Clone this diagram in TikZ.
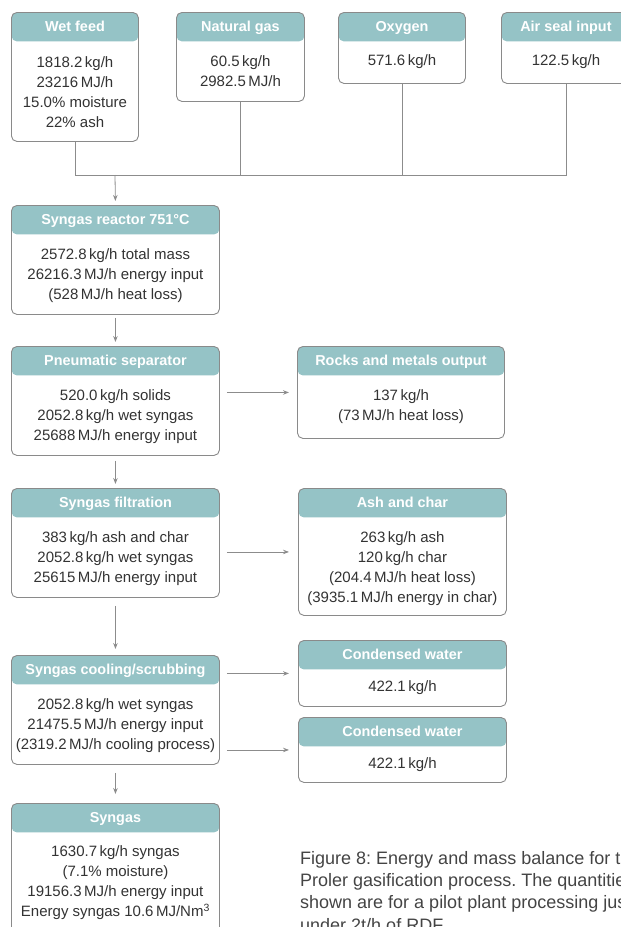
\documentclass[tikz,border=0pt]{standalone}
\usepackage{fontspec}
\setmainfont{Liberation Sans}
\usetikzlibrary{arrows.meta}
\frenchspacing
\definecolor{hdrcol}{HTML}{95C3C6}
\definecolor{edgecol}{HTML}{8A8A8A}
\definecolor{linecol}{HTML}{8C8C8C}
\definecolor{txtcol}{HTML}{333333}
\definecolor{capcol}{HTML}{444444}
\tikzset{
  boxshape/.style={draw=edgecol, line width=0.9pt, rounded corners=5.5pt, inner sep=0pt, fill=white,
    path picture={\fill[hdrcol] ([yshift=-29pt]path picture bounding box.north west) rectangle (path picture bounding box.north east);}},
  hdrtext/.style={text=white, font=\fontsize{14.4}{17}\selectfont\bfseries, inner sep=0pt, anchor=base},
  bodytext/.style={text=txtcol, font=\fontsize{15}{20}\selectfont, align=center, inner sep=0pt, anchor=north},
  conn/.style={draw=linecol, line width=0.8pt},
  flowarrow/.style={conn, -{Stealth[length=6pt,width=4.5pt]}},
  captext/.style={text=capcol, font=\fontsize{18}{22.3}\selectfont, align=left, inner sep=0pt, anchor=north west}
}
% #1 name, #2 x1, #3 y1, #4 x2, #5 y2, #6 title, #7 offset of body top below box top, #8 body
\newcommand{\flowbox}[8]{%
  \node[boxshape, minimum width=#4-#2, minimum height=#5-#3, anchor=north west] (#1) at (#2,#3) {};
  \node[hdrtext] (#1-h) at ([yshift=-19.8pt]#1.north) {#6};
  \node[bodytext] (#1-b) at ([yshift=-#7pt]#1.north) {#8};
}
\begin{document}
\begin{tikzpicture}[x=1pt, y=-1pt]
\useasboundingbox (0,0) rectangle (621,927);
\clip (0,0) rectangle (621,927);

% inputs
\flowbox{wetfeed}{11}{12}{138}{141}{Wet feed}{44.5}{1818.2\,kg/h\\23216\,MJ/h\\15.0\% moisture\\22\% ash}
\flowbox{natgas}{176}{12}{304}{101}{Natural gas}{43.5}{60.5\,kg/h\\2982.5\,MJ/h}
\flowbox{oxygen}{338}{12}{465}{83}{Oxygen}{42.5}{571.6\,kg/h}
\flowbox{airseal}{501}{12}{630}{83}{Air seal input}{42.5}{122.5\,kg/h}

% main chain
\flowbox{reactor}{11}{205}{219}{314}{Syngas reactor 751°C}{43}{2572.8\,kg/h total mass\\26216.3\,MJ/h energy input\\(528\,MJ/h heat loss)}
\flowbox{pneum}{11}{346}{219}{455}{Pneumatic separator}{43.5}{520.0\,kg/h solids\\2052.8\,kg/h wet syngas\\25688\,MJ/h energy input}
\flowbox{filt}{11}{488}{219}{597}{Syngas filtration}{43.5}{383\,kg/h ash and char\\2052.8\,kg/h wet syngas\\25615\,MJ/h energy input}
\flowbox{cool}{11}{655}{219}{764}{Syngas cooling/scrubbing}{43.5}{2052.8\,kg/h wet syngas\\21475.5\,MJ/h energy input\\(2319.2\,MJ/h cooling process)}
\flowbox{syngas}{11}{803}{219}{940}{Syngas}{42.5}{\fontsize{15}{19.2}\selectfont 1630.7\,kg/h syngas\\(7.1\% moisture)\\19156.3\,MJ/h energy input\\Energy syngas 10.6\,MJ/Nm\textsuperscript{3}}

% outputs
\flowbox{rocks}{297}{346}{504}{438}{Rocks and metals output}{43.5}{137\,kg/h\\(73\,MJ/h heat loss)}
\flowbox{ash}{298}{488}{506}{615}{Ash and char}{43.5}{263\,kg/h ash\\120\,kg/h char\\(204.4\,MJ/h heat loss)\\(3935.1\,MJ/h energy in char)}
\flowbox{cwa}{298}{640}{506}{706}{Condensed water}{40}{422.1\,kg/h}
\flowbox{cwb}{298}{717}{506}{782}{Condensed water}{40}{422.1\,kg/h}

% collecting bus
\coordinate (bus) at (115,175);
\draw[conn] (wetfeed.south) |- (airseal.south |- bus) -- (airseal.south);
\draw[conn] (natgas.south) -- (natgas.south |- bus);
\draw[conn] (oxygen.south) -- (oxygen.south |- bus);
\draw[flowarrow, shorten >=4pt] (bus) -- (reactor.north);

% vertical arrows
\draw[flowarrow, shorten <=3pt, shorten >=4pt] (reactor.south) -- (pneum.north);
\draw[flowarrow, shorten <=5pt, shorten >=4pt] (pneum.south) -- (filt.north);
\draw[flowarrow, shorten <=8pt, shorten >=6pt] (filt.south) -- (cool.north);
\draw[flowarrow, shorten <=8pt, shorten >=9pt] (cool.south) -- (syngas.north);

% horizontal arrows
\draw[flowarrow, shorten <=7pt, shorten >=8pt] (pneum.east |- rocks.west) -- (rocks.west);
\draw[flowarrow, shorten <=7pt, shorten >=9pt] (filt.east |- ash.west) -- (ash.west);
\draw[flowarrow, shorten <=7pt, shorten >=9pt] (cool.east |- cwa.west) -- (cwa.west);
\draw[flowarrow, shorten <=7pt, shorten >=9pt] (cool.east |- cwb.west) -- (cwb.west);

% caption
\node[captext] (caption) at (300,851) {Figure 8: Energy and mass balance for the\\Proler gasification process. The quantities\\shown are for a pilot plant processing just\\under 2t/h of RDF.};
\end{tikzpicture}
\end{document}
